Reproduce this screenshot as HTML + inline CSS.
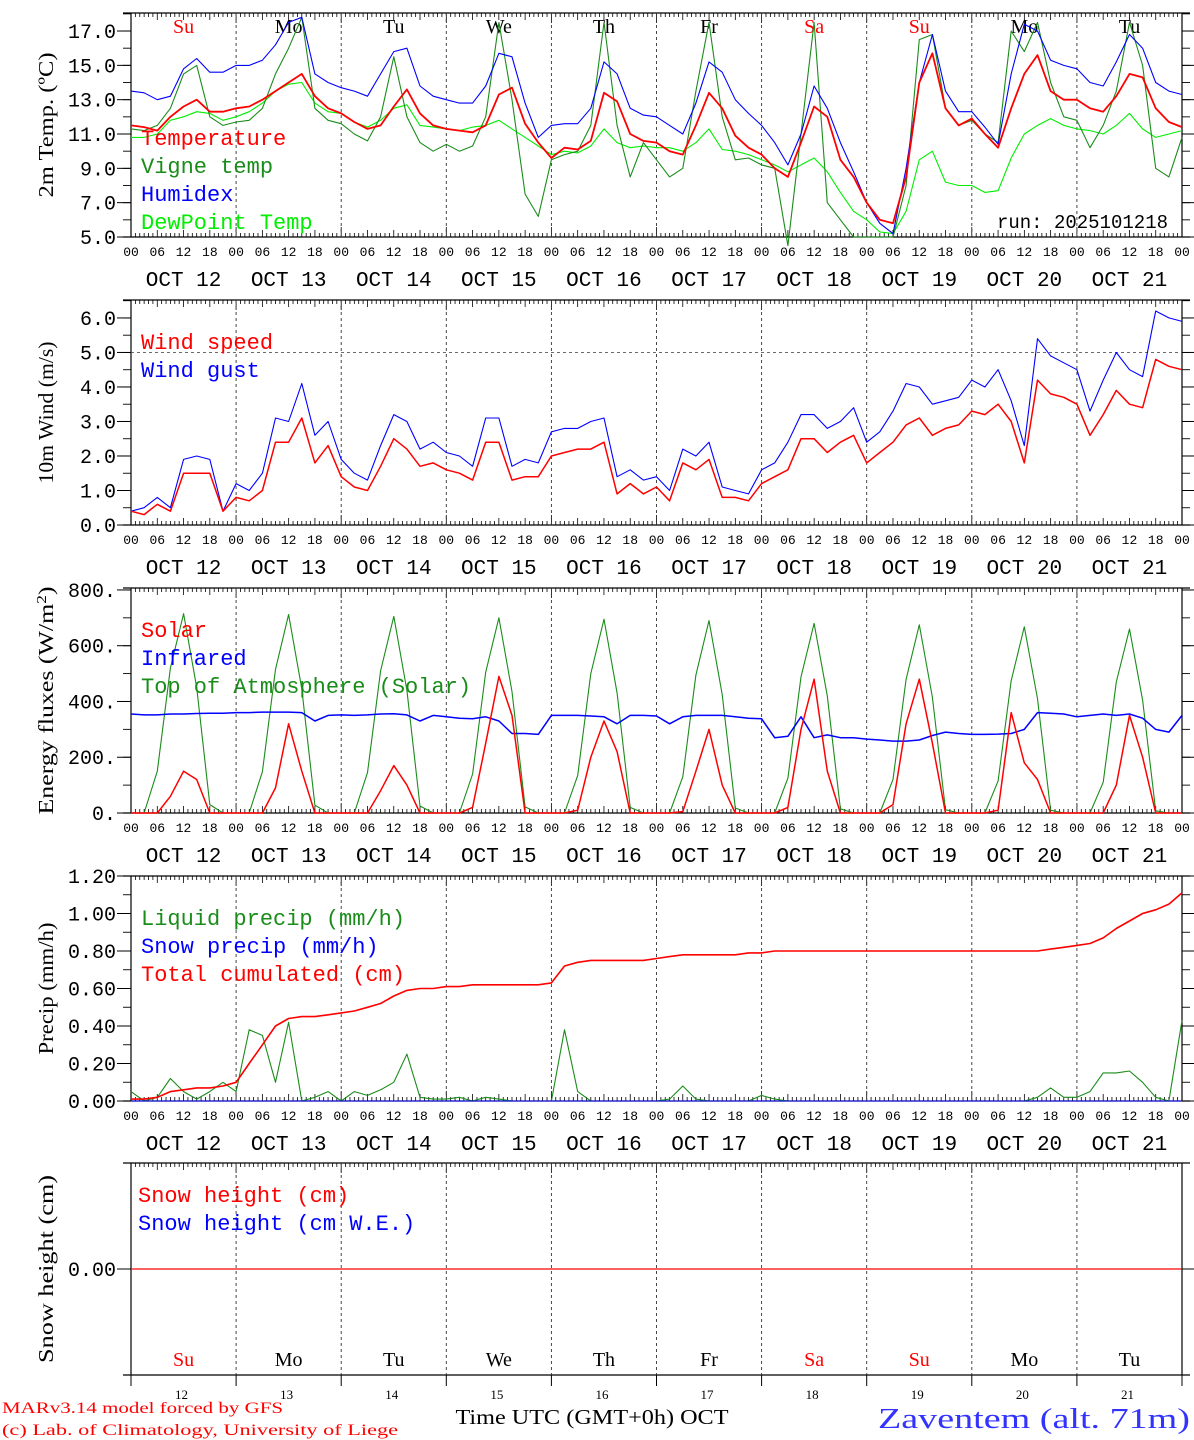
<!DOCTYPE html>
<html><head><meta charset="utf-8">
<style>
html,body{margin:0;padding:0;background:#fff;}
svg{display:block;}
text{font-family:"Liberation Mono",monospace;}
.serif{font-family:"Liberation Serif",serif;}
</style></head>
<body>
<svg id="chart" width="1194" height="1440" viewBox="0 0 1194 1440" xmlns="http://www.w3.org/2000/svg"></svg>
<script>
// ---- data (3-hourly from OCT 12 00 UTC to OCT 22 00 UTC) ----
const days = ["12","13","14","15","16","17","18","19","20","21"];
const weekdays = ["Su","Mo","Tu","We","Th","Fr","Sa","Su","Mo","Tu"];
const hourTicks = ["00","06","12","18"];
const tempVals = [11.5,11.4,11.2,12.0,12.6,13.0,12.3,12.3, 12.5,12.6,13.0,13.5,14.0,14.5,13.2,12.5, 12.2,11.7,11.3,11.5,12.6,13.6,12.2,11.5, 11.3,11.2,11.1,11.5,13.3,13.7,11.6,10.5, 9.6,10.2,10.1,10.6,13.4,12.9,11.0,10.6, 10.5,10.0,9.8,11.5,13.4,12.5,10.9,10.2, 9.8,9.0,8.5,10.5,12.6,12.0,9.5,8.5, 7.0,6.0,5.8,8.5,14.0,15.7,12.5,11.5, 11.9,11.0,10.2,12.5,14.5,15.6,13.5,13.0, 13.0,12.5,12.3,13.2,14.5,14.3,12.5,11.7,11.4];
const vigneVals = [11.3,11.2,11.5,12.5,14.5,15.0,12.0,11.5, 11.7,11.8,12.5,14.5,16.0,17.8,12.5,11.8, 11.6,11.0,10.6,12.0,15.5,12.0,10.5,10.0, 10.4,10.0,10.3,12.0,17.5,13.0,7.5,6.2, 9.5,9.8,10.0,11.5,17.5,11.5,8.5,10.5, 9.5,8.5,9.0,13.5,17.5,12.0,9.5,9.6, 9.2,9.0,4.5,11.0,17.5,7.0,6.0,5.0, 5.0,5.0,5.0,8.0,16.5,16.8,12.5,11.5, 11.8,11.0,10.5,17.0,15.8,17.5,14.0,12.0, 11.8,10.2,11.5,13.5,17.5,15.0,9.0,8.5,10.8];
const humidexVals = [13.5,13.4,13.0,13.2,14.8,15.4,14.6,14.6, 15.0,15.0,15.3,16.2,17.5,17.8,14.5,14.0, 13.7,13.5,13.2,14.5,15.8,16.0,13.8,13.2, 13.0,12.8,12.8,13.8,15.7,15.5,12.8,10.8, 11.5,11.6,11.6,12.5,15.2,14.5,12.5,12.1, 12.0,11.5,11.0,12.8,15.2,14.6,13.0,12.2, 11.5,10.5,9.2,11.0,13.8,12.5,10.5,8.8, 7.0,5.8,5.2,9.0,14.0,16.8,13.5,12.3, 12.3,11.4,10.4,14.5,17.4,17.0,15.3,15.0, 14.8,14.0,13.8,15.2,16.8,16.0,14.0,13.5,13.3];
const dewVals = [10.8,10.8,11.0,11.8,12.0,12.3,12.2,11.8, 12.0,12.3,12.8,13.5,13.9,14.0,12.8,12.3, 12.2,11.7,11.4,11.8,12.5,12.7,11.5,11.4, 11.3,11.2,11.4,11.5,11.8,11.3,10.8,10.3, 9.8,10.0,9.9,10.3,11.3,10.5,10.2,10.3, 10.2,10.2,10.0,10.5,11.3,10.1,10.0,9.8, 9.5,9.2,8.8,9.2,9.6,8.8,7.6,6.5, 6.0,5.3,5.2,6.5,9.5,10.0,8.2,8.0, 8.0,7.6,7.7,9.6,11.0,11.5,11.9,11.5, 11.3,11.2,11.0,11.5,12.2,11.3,10.8,11.0,11.2];
const windVals = [0.4,0.3,0.6,0.4,1.5,1.5,1.5,0.4, 0.8,0.7,1.0,2.4,2.4,3.1,1.8,2.3, 1.4,1.1,1.0,1.7,2.5,2.2,1.7,1.8, 1.6,1.5,1.3,2.4,2.4,1.3,1.4,1.4, 2.0,2.1,2.2,2.2,2.4,0.9,1.2,0.9, 1.1,0.7,1.8,1.6,1.9,0.8,0.8,0.7, 1.2,1.4,1.6,2.5,2.5,2.1,2.4,2.6, 1.8,2.1,2.4,2.9,3.1,2.6,2.8,2.9, 3.3,3.2,3.5,3.0,1.8,4.2,3.8,3.7, 3.5,2.6,3.2,3.9,3.5,3.4,4.8,4.6,4.5];
const gustVals = [0.4,0.5,0.8,0.5,1.9,2.0,1.9,0.4, 1.2,1.0,1.5,3.1,3.0,4.1,2.6,3.0, 1.9,1.5,1.3,2.3,3.2,3.0,2.2,2.4, 2.1,2.0,1.7,3.1,3.1,1.7,1.9,1.8, 2.7,2.8,2.8,3.0,3.1,1.4,1.6,1.3, 1.4,1.0,2.2,2.0,2.4,1.1,1.0,0.9, 1.6,1.8,2.4,3.2,3.2,2.8,3.0,3.4, 2.4,2.7,3.3,4.1,4.0,3.5,3.6,3.7, 4.2,4.0,4.5,3.6,2.3,5.4,4.9,4.7, 4.5,3.3,4.2,5.0,4.5,4.3,6.2,6.0,5.9];
const solarVals = [0,0,0,60,150,120,0,0, 0,0,0,90,320,150,0,0, 0,0,0,80,170,100,0,0, 0,0,20,250,490,350,0,0, 0,0,10,200,330,220,0,0, 0,0,5,150,300,100,0,0, 0,0,20,300,480,150,0,0, 0,0,30,320,480,250,0,0, 0,0,10,360,180,120,0,0, 0,0,0,100,350,200,0,0,0];
const infraVals = [355,352,352,355,355,357,358,358, 360,360,362,362,362,360,330,350, 352,350,352,355,356,352,330,350, 345,340,338,345,330,285,285,282, 350,350,350,348,345,320,350,350, 348,320,345,350,350,350,345,340, 338,270,275,345,270,280,270,270, 265,262,258,258,262,278,290,285, 282,282,283,285,300,360,358,355, 345,350,355,350,355,340,300,290,350];
const toaVals = [0,0,150,520,715,450,30,0, 0,0,148,515,712,445,28,0, 0,0,145,510,705,440,25,0, 0,0,140,505,700,435,22,0, 0,0,135,500,695,430,20,0, 0,0,130,495,690,425,18,0, 0,0,125,488,680,420,15,0, 0,0,120,480,675,415,12,0, 0,0,115,475,668,410,10,0, 0,0,110,470,660,405,8,0,0];
const liquidVals = [0.05,0.0,0.02,0.12,0.05,0.01,0.05,0.1, 0.05,0.38,0.35,0.1,0.42,0.0,0.02,0.05, 0.0,0.05,0.03,0.06,0.1,0.25,0.02,0.01, 0.01,0.02,0.0,0.02,0.01,0.0,0.0,0.0, 0.0,0.38,0.05,0.0,0.0,0.0,0.0,0.0, 0.0,0.01,0.08,0.01,0.0,0.0,0.0,0.0, 0.03,0.01,0.0,0.0,0.0,0.0,0.0,0.0, 0.0,0.0,0.0,0.0,0.0,0.0,0.0,0.0, 0.0,0.0,0.0,0.0,0.0,0.02,0.07,0.02, 0.02,0.05,0.15,0.15,0.16,0.1,0.02,0.0,0.43];
const snowPrecipVals = [0,0,0,0,0,0,0,0, 0,0,0,0,0,0,0,0, 0,0,0,0,0,0,0,0, 0,0,0,0,0,0,0,0, 0,0,0,0,0,0,0,0, 0,0,0,0,0,0,0,0, 0,0,0,0,0,0,0,0, 0,0,0,0,0,0,0,0, 0,0,0,0,0,0,0,0, 0,0,0,0,0,0,0,0,0];
const cumulVals = [0.01,0.01,0.02,0.05,0.06,0.07,0.07,0.08, 0.10,0.20,0.30,0.40,0.44,0.45,0.45,0.46, 0.47,0.48,0.50,0.52,0.56,0.59,0.60,0.60, 0.61,0.61,0.62,0.62,0.62,0.62,0.62,0.62, 0.63,0.72,0.74,0.75,0.75,0.75,0.75,0.75, 0.76,0.77,0.78,0.78,0.78,0.78,0.78,0.79, 0.79,0.80,0.80,0.80,0.80,0.80,0.80,0.80, 0.80,0.80,0.80,0.80,0.80,0.80,0.80,0.80, 0.80,0.80,0.80,0.80,0.80,0.80,0.81,0.82, 0.83,0.84,0.87,0.92,0.96,1.00,1.02,1.05,1.11];
const snowHeightVals = [0,0,0,0,0,0,0,0, 0,0,0,0,0,0,0,0, 0,0,0,0,0,0,0,0, 0,0,0,0,0,0,0,0, 0,0,0,0,0,0,0,0, 0,0,0,0,0,0,0,0, 0,0,0,0,0,0,0,0, 0,0,0,0,0,0,0,0, 0,0,0,0,0,0,0,0, 0,0,0,0,0,0,0,0,0];
const tempTicks = ["5.0","7.0","9.0","11.0","13.0","15.0","17.0"];
const windTicks = ["0.0","1.0","2.0","3.0","4.0","5.0","6.0"];
const fluxTicks = ["0.","200.","400.","600.","800."];
const precipTicks = ["0.00","0.20","0.40","0.60","0.80","1.00","1.20"];

// ---- layout ----
const NS = "http://www.w3.org/2000/svg";
const svg = document.getElementById("chart");
const X0 = 131, X1 = 1182, HOURS = 240;
function xh(h){ return X0 + (X1 - X0) * h / HOURS; }
function xi(i){ return xh(i * 3); }
function mk(tag, attrs, parent){
  const e = document.createElementNS(NS, tag);
  for (const k in attrs) e.setAttribute(k, attrs[k]);
  (parent || svg).appendChild(e);
  return e;
}
function txt(s, x, y, size, fill, anchor, cls, parent){
  const t = mk("text", {x:x, y:y, "font-size":size, fill:fill, "text-anchor":anchor||"start"}, parent);
  if (cls) t.setAttribute("class", cls);
  t.textContent = s;
  return t;
}

function panel(name, top, bot, ymin, ymax, ticks, minorStep, yTitle, titleLen, hourLabels){
  const g = mk("g", {});
  
  
  const ys = v => bot - (bot - top) * (v - ymin) / (ymax - ymin);
  mk("line", {x1:X0, y1:top, x2:X0, y2:bot, stroke:"#000", "stroke-width":1.2}, g);
  mk("line", {x1:X1, y1:top, x2:X1, y2:bot, stroke:"#000", "stroke-width":1.2}, g);
  mk("line", {x1:X0-8, y1:top, x2:X1+8, y2:top, stroke:"#000", "stroke-width":1.2}, g);
  mk("line", {x1:X0-8, y1:bot, x2:X1+8, y2:bot, stroke:"#000", "stroke-width":1.2}, g);
  for (let h = 0; h <= HOURS; h++){
    const x = xh(h);
    const L = (h % 24 === 0) ? 10 : (h % 6 === 0 ? 7 : 4);
    mk("line", {x1:x, y1:top, x2:x, y2:top + L, stroke:"#000", "stroke-width":0.8}, g);
    if (hourLabels) mk("line", {x1:x, y1:bot, x2:x, y2:bot - L, stroke:"#000", "stroke-width":0.8}, g);
    if (h % 24 === 0 && h > 0 && h < HOURS)
      mk("line", {x1:x, y1:top, x2:x, y2:bot, stroke:"#333", "stroke-width":0.9, "stroke-dasharray":"3,3"}, g);
  }
  if (minorStep){
    for (let v = ymin; v <= ymax + 1e-9; v += minorStep){
      const y = ys(v);
      mk("line", {x1:X0-8, y1:y, x2:X0, y2:y, stroke:"#000", "stroke-width":0.9}, g);
      mk("line", {x1:X1, y1:y, x2:X1+8, y2:y, stroke:"#000", "stroke-width":0.9}, g);
    }
  }
  ticks.forEach(s => {
    const v = parseFloat(s), y = ys(v);
    mk("line", {x1:X0-14, y1:y, x2:X0, y2:y, stroke:"#000", "stroke-width":1}, g);
    mk("line", {x1:X1, y1:y, x2:X1+12, y2:y, stroke:"#000", "stroke-width":1}, g);
    const t = txt(s, X0 - 15, y + 7, 20, "#000", "end", null, g);
    
    
  });
  const yt = txt("", 0, 0, 21, "#000", "middle", "serif", g);
  yt.setAttribute("transform", "translate(53," + ((top + bot) / 2) + ") rotate(-90)");
  yt.innerHTML = yTitle;
  yt.setAttribute("textLength", titleLen);
  yt.setAttribute("lengthAdjust", "spacingAndGlyphs");
  
  
  if (hourLabels){
    for (let d = 0; d < days.length; d++){
      hourTicks.forEach((hs, k) => {
        const t = txt(hs, xh(d * 24 + k * 6), bot + 19, 13, "#000", "middle", null, g);
        
        
      });
      const t2 = txt("OCT " + days[d], xh(d * 24 + 12), bot + 49, 21, "#000", "middle", null, g);
      
      
    }
    const t = txt("00", xh(HOURS), bot + 19, 13, "#000", "middle", null, g);
    
    
  }
  return {g, ys};
}
function series(p, vals, color, name, width){
  const pts = vals.map((v, i) => xi(i).toFixed(1) + "," + p.ys(v).toFixed(1)).join(" ");
  const l = mk("polyline", {points:pts, fill:"none", stroke:color, "stroke-width":width||1.2, "stroke-linejoin":"round"}, p.g);
  
  
}
function legend(p, items, x, y0){
  items.forEach((it, k) => {
    const t = txt(it[0], x, y0 + k * 28, 22, it[1], "start", null, p.g);
    
    
  });
}

// Panel 1
const p1 = panel("temperature", 13, 237, 5, 18.05, tempTicks, 1, "2m Temp. (ºC)", 145, true);
for (let d = 0; d < weekdays.length; d++){
  const c = (weekdays[d] === "Su" || weekdays[d] === "Sa") ? "#f00" : "#000";
  const t = txt(weekdays[d], xh(d * 24 + 12), 33, 20, c, "middle", "serif", p1.g);
  
  
}
series(p1, dewVals, "#00ee00", "dewpoint-line", 1.1);
series(p1, vigneVals, "#1a8c1a", "vigne-temp-line", 1.1);
series(p1, humidexVals, "#0000ff", "humidex-line", 1.1);
series(p1, tempVals, "#ff0000", "temperature-line", 1.8);
legend(p1, [["Temperature","#f00"],["Vigne temp","#1a8c1a"],["Humidex","#00f"],["DewPoint Temp","#0e0"]], 141, 145);
const run = txt("run: 2025101218", 1168, 228, 19, "#000", "end", null, p1.g);



// Panel 2
const p2 = panel("wind", 300, 525, 0, 6.52, windTicks, 0.5, "10m Wind (m/s)", 142, true);
const dl = mk("line", {x1:X0, y1:p2.ys(5), x2:X1, y2:p2.ys(5), stroke:"#555", "stroke-width":0.8, "stroke-dasharray":"3,3"}, p2.g);


series(p2, gustVals, "#0000ff", "wind-gust-line", 1.1);
series(p2, windVals, "#ff0000", "wind-speed-line", 1.5);
legend(p2, [["Wind speed","#f00"],["Wind gust","#00f"]], 141, 349);

// Panel 3
const p3 = panel("energy", 588, 813, 0, 807, fluxTicks, 100, "Energy fluxes (W/m<tspan dy='-7' font-size='14'>2</tspan><tspan dy='7'>)</tspan>", 228, true);
series(p3, toaVals, "#1a8c1a", "toa-solar-line", 1.1);
series(p3, infraVals, "#0000ff", "infrared-line", 1.5);
series(p3, solarVals, "#ff0000", "solar-line", 1.5);
legend(p3, [["Solar","#f00"],["Infrared","#00f"],["Top of Atmosphere (Solar)","#1a8c1a"]], 141, 637);

// Panel 4
const p4 = panel("precip", 876, 1101, 0, 1.2, precipTicks, 0.1, "Precip (mm/h)", 132, true);
series(p4, liquidVals, "#1a8c1a", "liquid-precip-line", 1.1);
series(p4, snowPrecipVals, "#0000ff", "snow-precip-line", 1.1);
series(p4, cumulVals, "#ff0000", "total-cumulated-line", 1.6);
legend(p4, [["Liquid precip (mm/h)","#1a8c1a"],["Snow precip (mm/h)","#00f"],["Total cumulated (cm)","#f00"]], 141, 925);

// Panel 5
const p5 = panel("snow", 1163, 1375, -1, 1, ["0.00"], null, "Snow height (cm)", 188, false);
series(p5, snowHeightVals, "#ff0000", "snow-height-line", 1.2);
legend(p5, [["Snow height (cm)","#f00"],["Snow height (cm W.E.)","#00f"]], 138, 1202);
for (let d = 0; d < weekdays.length; d++){
  const c = (weekdays[d] === "Su" || weekdays[d] === "Sa") ? "#f00" : "#000";
  const t = txt(weekdays[d], xh(d * 24 + 12), 1366, 20, c, "middle", "serif", p5.g);
  
  
  const n = txt(days[d], xh(d * 24 + 12) - 2, 1399, 13, "#000", "middle", "serif", p5.g);
  
  
}
for (let d = 0; d <= 10; d++){
  const tk = mk("line", {x1:xh(d*24), y1:1375, x2:xh(d*24), y2:1386, stroke:"#000", "stroke-width":1}, p5.g);
  
  
}

// Footer
const ft = txt("Time UTC (GMT+0h) OCT", 592, 1424, 21, "#000", "middle", "serif");
ft.setAttribute("textLength", 273);
ft.setAttribute("lengthAdjust", "spacingAndGlyphs");


const c1 = txt("MARv3.14 model forced by GFS", 2, 1413, 16, "#f00", "start", "serif");
c1.setAttribute("textLength", 281);
c1.setAttribute("lengthAdjust", "spacingAndGlyphs");


const c2 = txt("(c) Lab. of Climatology, University of Liege", 2, 1435, 16, "#f00", "start", "serif");
c2.setAttribute("textLength", 396);
c2.setAttribute("lengthAdjust", "spacingAndGlyphs");


const st = txt("Zaventem (alt. 71m)", 878, 1428, 29, "#3333ff", "start", "serif");
st.setAttribute("textLength", 312);
st.setAttribute("lengthAdjust", "spacingAndGlyphs");


</script>
</body></html>
